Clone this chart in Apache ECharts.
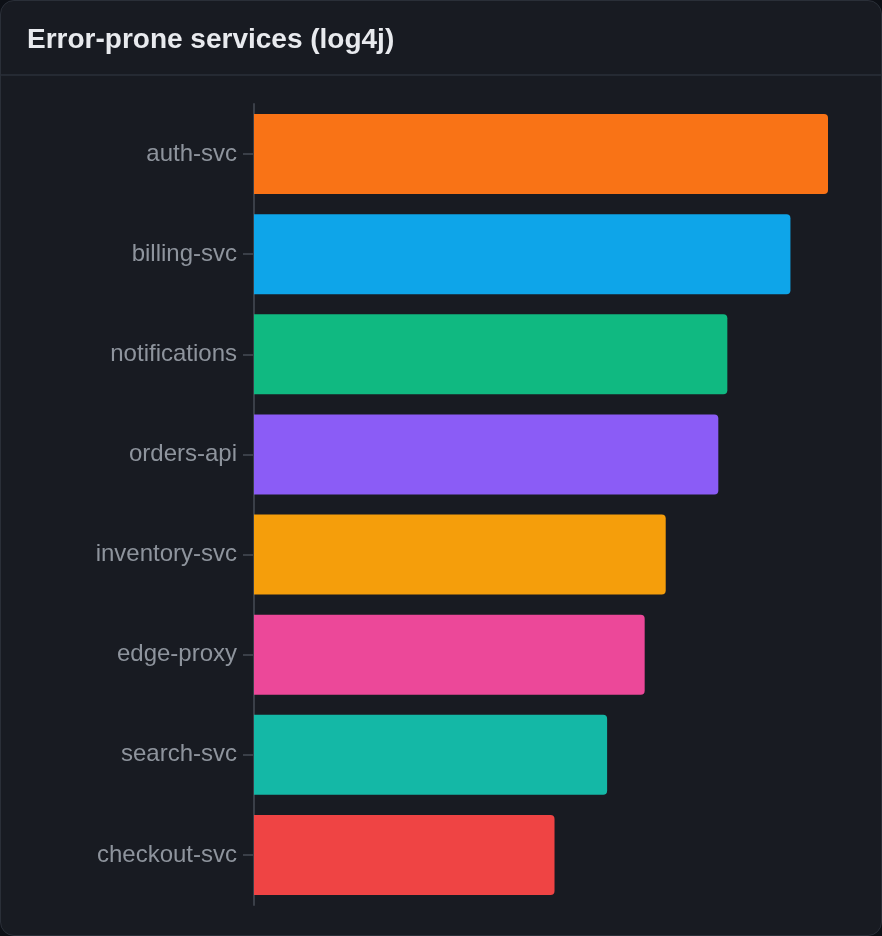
<!DOCTYPE html>
<html>
<head>
<meta charset="utf-8">
<script src="https://cdn.jsdelivr.net/npm/echarts@6/dist/echarts.min.js"></script>
<style>
  html, body { margin: 0; padding: 0; background: #0d1016; width: 882px; height: 936px; overflow: hidden; }
  #card { position: absolute; left: 0; top: 0; width: 880px; height: 934px; border: 1px solid #2a2f38; border-radius: 14px; background: #181b22; overflow: hidden; }
  #sep { position: absolute; left: 0; top: 73px; width: 880px; height: 2px; background: #252a33; }
  #chart { position: absolute; left: -1px; top: -1px; width: 882px; height: 936px; }
</style>
</head>
<body>
<div id="card"><div id="sep"></div></div>
<div id="chart"></div>
<script>
const titleText = "Error-prone services (log4j)";
const categories = ["auth-svc", "billing-svc", "notifications", "orders-api", "inventory-svc", "edge-proxy", "search-svc", "checkout-svc"];
const errorCounts = [382, 357, 315, 309, 274, 260, 235, 200];
const barColors = ["#f97316", "#0ea5e9", "#10b981", "#8b5cf6", "#f59e0b", "#ec4899", "#14b8a6", "#ef4444"];

const chart = echarts.init(document.getElementById('chart'), null, { renderer: 'canvas' });
chart.setOption({
  backgroundColor: 'transparent',
  animation: false,
  title: {
    text: titleText,
    left: 23,
    top: 22,
    textStyle: { color: '#e8eaee', fontSize: 28, fontWeight: 'bold', fontFamily: '"Liberation Sans", Arial, sans-serif' }
  },
  grid: { left: 255, right: 53, top: 105, bottom: 30, containLabel: false },
  xAxis: {
    type: 'value',
    min: 0,
    max: errorCounts[0],
    show: false
  },
  yAxis: {
    type: 'category',
    data: categories,
    inverse: true,
    axisLine: { show: true, lineStyle: { color: '#3a3f48', width: 2 } },
    axisTick: { show: true, length: 11, alignWithLabel: true, lineStyle: { color: '#3a3f48', width: 2 } },
    axisLabel: { color: '#8e949d', fontSize: 24, margin: 17, padding: [4, 0, 0, 0], fontFamily: '"Liberation Sans", Arial, sans-serif' },
    splitLine: { show: false }
  },
  series: [{
    type: 'bar',
    data: errorCounts.map((v, i) => ({ value: v, itemStyle: { color: barColors[i] } })),
    barCategoryGap: '20%',
    itemStyle: { borderRadius: [0, 4, 4, 0] }
  }]
});
</script>
</body>
</html>
